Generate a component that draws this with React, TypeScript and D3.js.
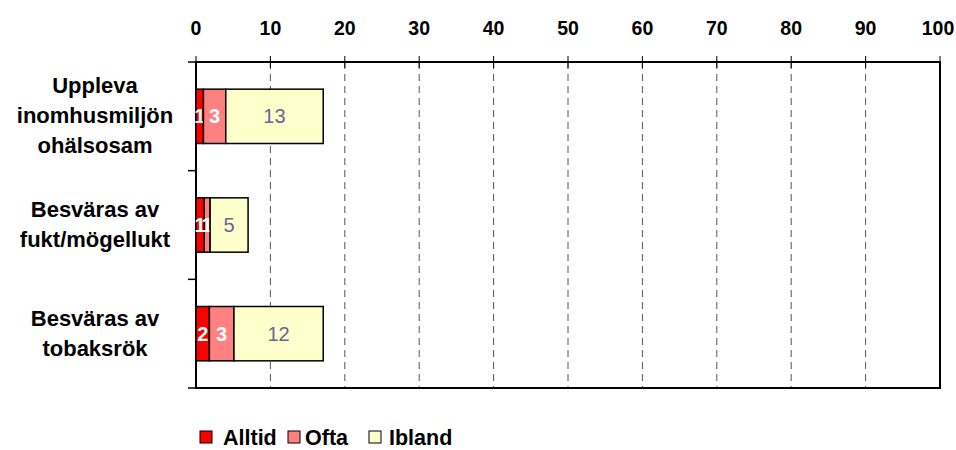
import { useEffect, useRef } from "react"
import { select, scaleLinear, scaleBand, stack, range } from "d3"

const categories = ["Uppleva inomhusmiljön ohälsosam", "Besväras av fukt/mögellukt", "Besväras av tobaksrök"]
const categoryLines = [["Uppleva", "inomhusmiljön", "ohälsosam"], ["Besväras av", "fukt/mögellukt"], ["Besväras av", "tobaksrök"]]
const seriesNames = ["Alltid", "Ofta", "Ibland"]
const alltid = [1.0, 1.1, 1.8]
const ofta = [3.0, 0.8, 3.3]
const ibland = [13.1, 5.1, 12.0]
const xTicks = [0, 10, 20, 30, 40, 50, 60, 70, 80, 90, 100]

const colors = ["#FF0000", "#FF8080", "#FFFFCC"]
const labelColors = ["#FFFFFF", "#FFFFFF", "#666699"]
const font = "'Liberation Sans', Arial, sans-serif"

const App = () => {
  const svgRef = useRef<SVGSVGElement>(null)

  useEffect(() => {
    const left = 196
    const right = 940
    const top = 62
    const bottom = 388

    const svg = select(svgRef.current)
    svg.selectAll("*").remove()

    const xScale = scaleLinear().domain([0, 100]).range([left, right])
    const yScale = scaleBand().domain(categories).range([top, bottom]).paddingInner(0.5).paddingOuter(0.25)

    const rows = categories.map((c, i) => ({ cat: c, Alltid: alltid[i], Ofta: ofta[i], Ibland: ibland[i] }))
    const stacked = stack().keys(seriesNames)(rows as any)

    // gridlines
    svg.append("g")
      .selectAll("line")
      .data(xTicks.slice(1, -1))
      .join("line")
      .attr("x1", d => xScale(d)).attr("x2", d => xScale(d))
      .attr("y1", top).attr("y2", bottom)
      .attr("stroke", "#555").attr("stroke-width", 1)
      .attr("stroke-dasharray", "7,5")

    // top tick labels + marks
    svg.append("g")
      .selectAll("text")
      .data(xTicks)
      .join("text")
      .attr("x", d => Math.min(xScale(d), 938)).attr("y", 35)
      .attr("text-anchor", "middle")
      .style("font-family", font).style("font-size", "19.5px").style("font-weight", "bold")
      .text(d => d)
    svg.append("g")
      .selectAll("line")
      .data(xTicks)
      .join("line")
      .attr("x1", d => xScale(d)).attr("x2", d => xScale(d))
      .attr("y1", top - 6).attr("y2", top + 6)
      .attr("stroke", "#000").attr("stroke-width", 1)

    // left category ticks
    const bounds = range(categories.length + 1).map(i => top + i * yScale.step())
    svg.append("g")
      .selectAll("line")
      .data(bounds)
      .join("line")
      .attr("x1", left - 8).attr("x2", left)
      .attr("y1", d => d).attr("y2", d => d)
      .attr("stroke", "#000").attr("stroke-width", 1.5)

    // frame
    svg.append("rect")
      .attr("x", left).attr("y", top)
      .attr("width", right - left).attr("height", bottom - top)
      .attr("fill", "none").attr("stroke", "#000").attr("stroke-width", 2)

    // bars
    stacked.forEach((s, si) => {
      const g = svg.append("g")
      g.selectAll("rect")
        .data(s)
        .join("rect")
        .attr("x", d => xScale(d[0]))
        .attr("y", d => yScale((d.data as any).cat)!)
        .attr("width", d => xScale(d[1]) - xScale(d[0]))
        .attr("height", yScale.bandwidth())
        .attr("fill", colors[si])
        .attr("stroke", "#000").attr("stroke-width", 1.5)
      g.selectAll("text")
        .data(s)
        .join("text")
        .attr("x", d => (xScale(d[0]) + xScale(d[1])) / 2)
        .attr("y", d => yScale((d.data as any).cat)! + yScale.bandwidth() / 2 + 7)
        .attr("text-anchor", "middle")
        .attr("fill", labelColors[si])
        .style("font-family", font).style("font-size", "20px")
        .style("font-weight", si < 2 ? "bold" : "normal")
        .text(d => Math.round(d[1] - d[0]))
    })

    // category labels
    categories.forEach((c, i) => {
      const lines = categoryLines[i]
      const cy = yScale(c)! + yScale.bandwidth() / 2
      const lh = 30
      const t = svg.append("text")
        .attr("text-anchor", "middle")
        .style("font-family", font).style("font-size", "22px").style("font-weight", "bold")
      lines.forEach((l, li) => {
        t.append("tspan")
          .attr("x", 95)
          .attr("y", cy + (li - (lines.length - 1) / 2) * lh + 7)
          .text(l)
      })
    })

    // legend
    const legendX = [200, 288, 369]
    const legendTextX = [223, 305, 389]
    const lg = svg.append("g")
    seriesNames.forEach((n, i) => {
      lg.append("rect")
        .attr("x", legendX[i]).attr("y", 431)
        .attr("width", 12).attr("height", 12)
        .attr("fill", colors[i]).attr("stroke", "#000").attr("stroke-width", 1)
      lg.append("text")
        .attr("x", legendTextX[i]).attr("y", 445)
        .style("font-family", font).style("font-size", "21.5px").style("font-weight", "bold")
        .text(n)
    })
  }, [])

  return (
    <svg ref={svgRef} width={956} height={450} style={{ position: "absolute", left: 0, top: 0, background: "#fff" }} />
  )
}

export default App
